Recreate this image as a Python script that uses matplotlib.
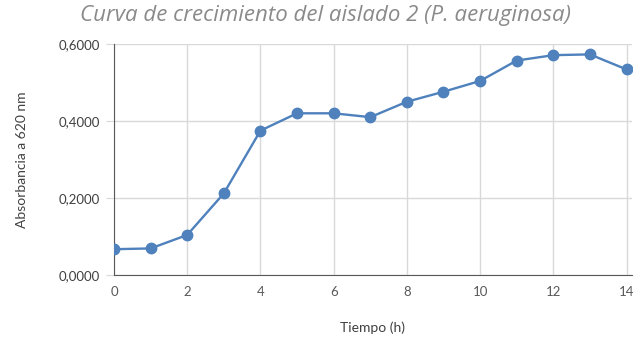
import matplotlib.pyplot as plt
from matplotlib.ticker import FuncFormatter

# growth curve of isolate 2
tiempo = [0, 1, 2, 3, 4, 5, 6, 7, 8, 9, 10, 11, 12, 13, 14]
absorbancia = [0.067, 0.069, 0.104, 0.212, 0.375, 0.420, 0.420, 0.410,
               0.450, 0.476, 0.504, 0.557, 0.571, 0.573, 0.534]
x_ticks = [0, 2, 4, 6, 8, 10, 12, 14]
y_ticks = [0.0, 0.2, 0.4, 0.6]

plt.rcParams['font.family'] = ['Lato', 'DejaVu Sans']

fig = plt.figure(figsize=(6.36, 3.38), dpi=100)
ax = fig.add_axes([114 / 636, 1 - 275 / 338, 518 / 636, 231 / 338])

ax.plot(tiempo, absorbancia, color='#4f81bd', linewidth=1.7,
        marker='o', markersize=7.5, zorder=3)

ax.set_xlim(0, 14.15)
ax.set_ylim(0, 0.6)
ax.set_xticks(x_ticks)
ax.set_yticks(y_ticks)
ax.yaxis.set_major_formatter(FuncFormatter(lambda v, p: f'{v:.4f}'.replace('.', ',')))

ax.grid(True, color='#d9d9d9', linewidth=1)
ax.set_axisbelow(True)
for s in ['top', 'right']:
    ax.spines[s].set_visible(False)
ax.spines['left'].set_color('#595959')
ax.spines['bottom'].set_color('#595959')
ax.tick_params(axis='x', length=0, pad=8, labelsize=9.5, labelcolor='#595959')
ax.tick_params(axis='y', length=6, color='#d9d9d9', pad=4, labelsize=9.5, labelcolor='#404040')

ax.set_xlabel('Tiempo (h)', fontsize=10, color='#404040', labelpad=17)
ax.set_ylabel('Absorbancia a 620 nm', fontsize=10, color='#404040', labelpad=22)

fig.text(325 / 636, 1 - 15 / 338, 'Curva de crecimiento del aislado 2 (P. aeruginosa)',
         ha='center', va='center', fontsize=16, style='italic', color='#8a8a8a',
         family=['Open Sans', 'DejaVu Sans'])

fig.savefig('out.png', dpi=100)
